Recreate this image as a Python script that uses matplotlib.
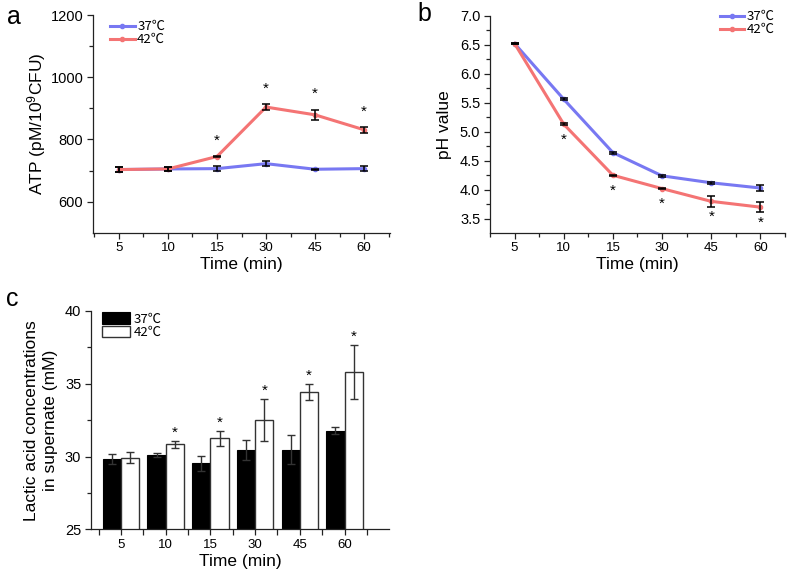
import matplotlib
matplotlib.use("Agg")
import matplotlib.pyplot as plt
import numpy as np
from matplotlib.ticker import FixedLocator, FormatStrFormatter

plt.rcParams['font.family'] = ['Liberation Sans', 'Noto Sans CJK SC', 'DejaVu Sans']
plt.rcParams['mathtext.fontset'] = 'custom'
plt.rcParams['mathtext.rm'] = 'Liberation Sans'
plt.rcParams['mathtext.it'] = 'Liberation Sans:italic'
plt.rcParams['mathtext.bf'] = 'Liberation Sans:bold'

# ---------------- data ----------------
times = ["5", "10", "15", "30", "45", "60"]
series_labels = ["37\u2103", "42\u2103"]

atp_37 = [703, 705, 706, 722, 704, 706]
atp_37_err = [8, 6, 9, 9, 2, 8]
atp_42 = [703, 705, 745, 904, 879, 831]
atp_42_err = [8, 6, 2, 9, 17, 9]
atp_sig = [False, False, True, True, True, True]

ph_37 = [6.52, 5.56, 4.64, 4.24, 4.12, 4.03]
ph_37_err = [0.01, 0.015, 0.015, 0.02, 0.02, 0.05]
ph_42 = [6.52, 5.13, 4.25, 4.02, 3.80, 3.70]
ph_42_err = [0.01, 0.015, 0.01, 0.015, 0.10, 0.09]
ph_sig = [False, True, True, True, True, True]

lac_37 = [29.81, 30.1, 29.53, 30.47, 30.47, 31.77]
lac_37_err = [0.34, 0.16, 0.5, 0.7, 1.0, 0.23]
lac_42 = [29.92, 30.84, 31.25, 32.51, 34.45, 35.79]
lac_42_err = [0.39, 0.23, 0.52, 1.42, 0.55, 1.85]
lac_sig = [False, True, True, True, True, True]

blue = "#7878F2"
red = "#F47474"
legend_font = {"family": ["Noto Sans CJK SC"], "size": 9.5}

W, H = 787, 580
fig = plt.figure(figsize=(W / 100, H / 100), dpi=100)

def px_axes(l, t, r, b):
    return fig.add_axes([l / W, 1 - b / H, (r - l) / W, (b - t) / H])

x = np.arange(len(times))

def style(ax):
    for s in ("top", "right"):
        ax.spines[s].set_visible(False)
    for s in ("left", "bottom"):
        ax.spines[s].set_linewidth(0.9)
        ax.spines[s].set_color("#222222")
    ax.tick_params(which="major", direction="out", length=4, width=0.9,
                   pad=3, color="#222222")
    ax.tick_params(which="minor", direction="out", length=3, width=0.9,
                   color="#222222")
    ax.tick_params(axis="y", labelsize=10.5)
    ax.tick_params(axis="x", labelsize=9.5)

# ---------------- panel a ----------------
ax = px_axes(93, 15, 390, 232.7)
style(ax)
for vals, errs, col, lab in [(atp_37, atp_37_err, blue, series_labels[0]),
                             (atp_42, atp_42_err, red, series_labels[1])]:
    ax.plot(x, vals, color=col, lw=2.2, marker="o", ms=3, label=lab, zorder=2)
    ax.errorbar(x, vals, yerr=errs, fmt="none", ecolor="black", elinewidth=1.1,
                capsize=3, capthick=1.1, zorder=3)
for i, s in enumerate(atp_sig):
    if s:
        ax.annotate("*", (x[i], atp_42[i] + atp_42_err[i]), xytext=(0, 11),
                    textcoords="offset points", ha="center", va="center", fontsize=11)
ax.set_xlim(-0.53, 5.53)
ax.set_ylim(500, 1200)
ax.yaxis.set_major_locator(FixedLocator([600, 800, 1000, 1200]))
ax.yaxis.set_minor_locator(FixedLocator([700, 900, 1100]))
ax.set_xticks(x)
ax.set_xticklabels(times)
ax.xaxis.set_minor_locator(FixedLocator(np.arange(-0.5, 5.6, 1)))
ax.set_xlabel("Time (min)", fontsize=12.5, labelpad=2)
ax.set_ylabel("ATP (pM/10$^9$CFU)", fontsize=12.5, labelpad=2)
ax.legend(loc="upper left", bbox_to_anchor=(0.04, 1.0), borderaxespad=0,
          frameon=False, prop=legend_font, handlelength=1.85, handletextpad=0.2,
          labelspacing=0.0)
fig.text(7 / W, 1 - 24 / H, "a", fontsize=18)

# ---------------- panel b ----------------
ax = px_axes(490, 15.7, 785, 232.7)
style(ax)
for vals, errs, col, lab in [(ph_37, ph_37_err, blue, series_labels[0]),
                             (ph_42, ph_42_err, red, series_labels[1])]:
    ax.plot(x, vals, color=col, lw=2.2, marker="o", ms=3, label=lab, zorder=2)
    ax.errorbar(x, vals, yerr=errs, fmt="none", ecolor="black", elinewidth=1.1,
                capsize=3, capthick=1.1, zorder=3)
for i, s in enumerate(ph_sig):
    if s:
        ax.annotate("*", (x[i], ph_42[i]), xytext=(0, -11),
                    textcoords="offset points", ha="center", va="center", fontsize=11)
ax.set_xlim(-0.5, 5.5)
ax.set_ylim(3.26, 7.0)
ax.yaxis.set_major_locator(FixedLocator(np.arange(3.5, 7.01, 0.5)))
ax.yaxis.set_minor_locator(FixedLocator(np.arange(3.25, 7.0, 0.5)))
ax.yaxis.set_major_formatter(FormatStrFormatter("%.1f"))
ax.set_xticks(x)
ax.set_xticklabels(times)
ax.xaxis.set_minor_locator(FixedLocator(np.arange(-0.5, 5.6, 1)))
ax.set_xlabel("Time (min)", fontsize=12.5, labelpad=2)
ax.set_ylabel("pH value", fontsize=12.5, labelpad=6)
ax.legend(loc="upper right", bbox_to_anchor=(0.983, 1.05), borderaxespad=0,
          frameon=False, prop=legend_font, handlelength=1.85, handletextpad=0.2,
          labelspacing=0.0)
fig.text(417 / W, 1 - 21 / H, "b", fontsize=18)

# ---------------- panel c ----------------
ax = px_axes(91, 311, 389.3, 529.3)
style(ax)
bw = 0.41
ax.bar(x - bw / 2, lac_37, bw, color="black", edgecolor="black",
       linewidth=0.8, label=series_labels[0], zorder=2)
ax.bar(x + bw / 2, lac_42, bw, color="white", edgecolor="#333333",
       linewidth=1.0, label=series_labels[1], zorder=2)
ax.errorbar(x - bw / 2, lac_37, yerr=lac_37_err, fmt="none", ecolor="#333333",
            elinewidth=1.0, capsize=3, capthick=1.0, zorder=3)
ax.errorbar(x + bw / 2, lac_42, yerr=lac_42_err, fmt="none", ecolor="#333333",
            elinewidth=1.0, capsize=3, capthick=1.0, zorder=3)
for i, s in enumerate(lac_sig):
    if s:
        ax.annotate("*", (x[i] + bw / 2, lac_42[i] + lac_42_err[i]), xytext=(0, 6),
                    textcoords="offset points", ha="center", va="center", fontsize=11)
ax.set_xlim(-0.67, 6.0)
ax.set_ylim(25, 40)
ax.yaxis.set_major_locator(FixedLocator([25, 30, 35, 40]))
ax.yaxis.set_minor_locator(FixedLocator([27.5, 32.5, 37.5]))
ax.set_xticks(x)
ax.set_xticklabels(times)
ax.xaxis.set_minor_locator(FixedLocator(np.arange(-0.5, 6.01, 1)))
ax.tick_params(axis="x", which="minor", length=4)
ax.set_xlabel("Time (min)", fontsize=12.5, labelpad=2)
ax.set_ylabel("Lactic acid concentrations\nin supernate (mM)", fontsize=12.5,
              labelpad=5, linespacing=1.3)
ax.legend(loc="upper left", bbox_to_anchor=(0.019, 1.018), borderaxespad=0,
          frameon=False, prop=legend_font, handlelength=2.1, handleheight=0.95,
          handletextpad=0.3, labelspacing=0.0)
fig.text(6 / W, 1 - 306 / H, "c", fontsize=18)

fig.savefig("out.png", dpi=100)
